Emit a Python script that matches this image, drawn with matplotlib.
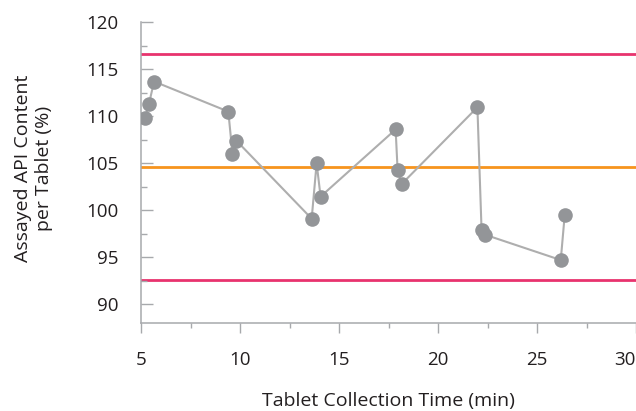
import matplotlib
matplotlib.use("Agg")
import matplotlib.pyplot as plt
from matplotlib.ticker import MultipleLocator

plt.rcParams['font.family'] = ['Open Sans', 'DejaVu Sans']

time_min = [5.2, 5.4, 5.66, 9.41, 9.62, 9.82, 13.62, 13.87, 14.07,
            17.86, 17.96, 18.17, 21.99, 22.2, 22.37, 26.2, 26.4]
api_pct = [109.8, 111.3, 113.7, 110.5, 106.0, 107.4, 99.1, 105.0, 101.45,
           108.6, 104.25, 102.8, 110.96, 97.9, 97.4, 94.7, 99.5]
upper_limit = 116.6
mean_line = 104.6
lower_limit = 92.6
x_ticks = [5, 10, 15, 20, 25, 30]
y_ticks = [90, 95, 100, 105, 110, 115, 120]

fig = plt.figure(figsize=(6.36, 4.11), dpi=100)
ax = fig.add_axes([141/636, (411-323)/411, 1 - 141/636, (323-22.3)/411])

ax.axhline(upper_limit, color='#E8336E', lw=2, zorder=1)
ax.axhline(lower_limit, color='#E8336E', lw=2, zorder=1)
ax.axhline(mean_line, color='#F7941D', lw=2, zorder=1)
ax.plot(time_min, api_pct, color='#AEAEAE', lw=1.5, zorder=2)
ax.plot(time_min, api_pct, 'o', color='#939598', markersize=10.5, mec='none', zorder=3)

ax.set_xlim(5, 30)
ax.set_ylim(88, 120)
ax.set_xticks(x_ticks)
ax.set_yticks(y_ticks)
ax.xaxis.set_minor_locator(MultipleLocator(2.5))
ax.yaxis.set_minor_locator(MultipleLocator(2.5))

for s in ['top', 'right']:
    ax.spines[s].set_visible(False)
for s in ['left', 'bottom']:
    ax.spines[s].set_color('#A7A9AC')
    ax.spines[s].set_linewidth(1.1)

tc = '#231F20'
fs = 13.5
ax.tick_params(axis='x', which='major', direction='out', length=7.2, width=1, color='#A7A9AC',
               labelsize=fs, labelcolor=tc, pad=13)
ax.tick_params(axis='x', which='minor', direction='out', length=3.6, width=1, color='#A7A9AC')
ax.tick_params(axis='y', which='major', direction='in', length=8.4, width=1, color='#A7A9AC',
               labelsize=fs, labelcolor=tc, pad=16)
ax.tick_params(axis='y', which='minor', direction='in', length=4.2, width=1, color='#A7A9AC')

labels = ax.get_xticklabels()
labels[-1].set_horizontalalignment('right')

ax.set_xlabel('Tablet Collection Time (min)', fontsize=14, color=tc, labelpad=16.5)
ax.set_ylabel('Assayed API Content\nper Tablet (%)', fontsize=14, color=tc,
              linespacing=1.2, multialignment='center')
ax.yaxis.set_label_coords(-0.178, 0.515)

fig.savefig('out.png', dpi=100)
